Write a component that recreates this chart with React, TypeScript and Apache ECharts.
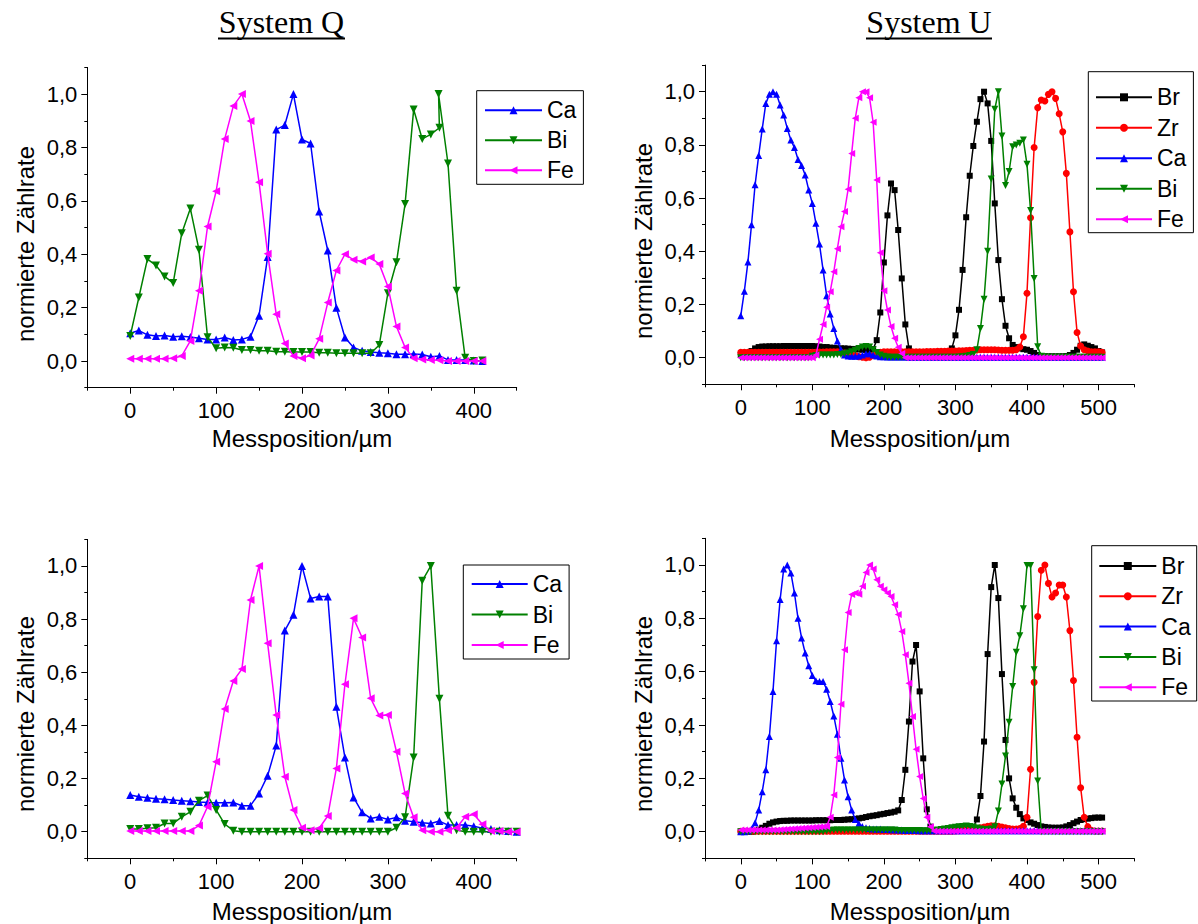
import React, { useEffect, useRef } from "react";
import * as echarts from "echarts";

const FONT = '"Liberation Sans", Arial, sans-serif';
const SERIF = '"Liberation Serif", "Times New Roman", serif';

// ---------- positions (µm) ----------
const xQTop = [0, 10, 20, 30, 40, 50, 60, 70, 80, 90, 100, 110, 120, 130, 140, 150, 160, 170, 180, 190, 200, 210, 220, 230, 240, 250, 260, 270, 280, 290, 300, 310, 320, 330, 340, 350, 360, 370, 380, 390, 400, 410];
const xQTopBi = [0, 10, 20, 30, 40, 50, 60, 70, 80, 90, 100, 110, 120, 130, 140, 150, 160, 170, 180, 190, 200, 210, 220, 230, 240, 250, 260, 270, 280, 290, 300, 310, 320, 330, 340, 350, 360, 359, 370, 380, 390, 400, 410];
const xQBot = [0, 10, 20, 30, 40, 50, 60, 70, 80, 90, 100, 110, 120, 130, 140, 150, 160, 170, 180, 190, 200, 210, 220, 230, 240, 250, 260, 270, 280, 290, 300, 310, 320, 330, 340, 350, 360, 370, 380, 390, 400, 410, 420, 430, 440, 450];
const xU = [
  0, 5, 10, 15, 20, 25, 30, 35, 40, 45,
  50, 55, 60, 65, 70, 75, 80, 85, 90, 95,
  100, 105, 110, 115, 120, 125, 130, 135, 140, 145,
  150, 155, 160, 165, 170, 175, 180, 185, 190, 195,
  200, 205, 210, 215, 220, 225, 230, 235, 240, 245,
  250, 255, 260, 265, 270, 275, 280, 285, 290, 295,
  300, 305, 310, 315, 320, 325, 330, 335, 340, 345,
  350, 355, 360, 365, 370, 375, 380, 385, 390, 395,
  400, 405, 410, 415, 420, 425, 430, 435, 440, 445,
  450, 455, 460, 465, 470, 475, 480, 485, 490, 495,
  500, 505,
];

// ---------- System Q, top ----------
const caQTop = [0.104, 0.114, 0.098, 0.094, 0.096, 0.091, 0.093, 0.090, 0.085, 0.081,
  0.081, 0.088, 0.079, 0.081, 0.091, 0.170, 0.390, 0.867, 0.884, 1.000,
  0.830, 0.815, 0.560, 0.414, 0.200, 0.088, 0.051, 0.038, 0.034, 0.031,
  0.029, 0.025, 0.025, 0.026, 0.024, 0.016, 0.019, 0.004, 0.004, 0.004,
  0.002, 0.000];
const biQTop = [0.094, 0.238, 0.382, 0.358, 0.317, 0.292, 0.479, 0.571, 0.417, 0.089,
  0.048, 0.051, 0.050, 0.041, 0.041, 0.038, 0.038, 0.035, 0.035, 0.034,
  0.034, 0.034, 0.031, 0.031, 0.029, 0.029, 0.029, 0.029, 0.029, 0.060,
  0.254, 0.370, 0.588, 0.942, 0.832, 0.849, 0.874, 1.000, 0.740, 0.263,
  0.012, 0.000, 0.002];
const feQTop = [0.008, 0.008, 0.008, 0.008, 0.008, 0.010, 0.019, 0.075, 0.263, 0.504,
  0.636, 0.832, 0.955, 1.000, 0.899, 0.670, 0.402, 0.175, 0.066, 0.019,
  0.010, 0.021, 0.083, 0.219, 0.339, 0.400, 0.379, 0.373, 0.388, 0.363,
  0.279, 0.129, 0.051, 0.010, 0.006, 0.004, 0.003, 0.000, 0.000, 0.000,
  0.000, 0.000];

// ---------- System Q, bottom ----------
const caQBot = [0.138, 0.132, 0.128, 0.124, 0.122, 0.119, 0.117, 0.115, 0.112, 0.110,
  0.109, 0.109, 0.110, 0.098, 0.098, 0.144, 0.211, 0.324, 0.757, 0.816,
  1.000, 0.878, 0.885, 0.885, 0.470, 0.279, 0.129, 0.073, 0.050, 0.056,
  0.046, 0.054, 0.041, 0.038, 0.034, 0.031, 0.040, 0.025, 0.025, 0.025,
  0.021, 0.013, 0.010, 0.006, 0.003, 0.000];
const biQBot = [0.010, 0.010, 0.013, 0.015, 0.031, 0.031, 0.056, 0.075, 0.117, 0.136,
  0.082, 0.029, 0.004, 0.000, 0.000, 0.000, 0.000, 0.000, 0.000, 0.000,
  0.000, 0.000, 0.000, 0.000, 0.000, 0.000, 0.000, 0.000, 0.000, 0.000,
  0.000, 0.015, 0.054, 0.279, 0.944, 1.000, 0.500, 0.060, 0.006, 0.000,
  0.000, 0.000, 0.000, 0.000, 0.000, 0.000];
const feQBot = [0.003, 0.003, 0.003, 0.003, 0.003, 0.003, 0.003, 0.003, 0.023, 0.094,
  0.263, 0.462, 0.567, 0.612, 0.872, 1.000, 0.709, 0.439, 0.207, 0.082,
  0.015, 0.006, 0.013, 0.059, 0.238, 0.555, 0.803, 0.731, 0.502, 0.437,
  0.439, 0.301, 0.144, 0.054, 0.006, 0.000, 0.000, 0.006, 0.015, 0.056,
  0.066, 0.028, 0.003, 0.003, 0.000, 0.000];

// ---------- System U, top ----------
const brUTop = [
  0.010, 0.012, 0.015, 0.025, 0.035, 0.040, 0.042, 0.042, 0.043, 0.043,
  0.043, 0.043, 0.044, 0.044, 0.044, 0.044, 0.044, 0.044, 0.044, 0.044,
  0.044, 0.043, 0.042, 0.040, 0.040, 0.038, 0.037, 0.036, 0.035, 0.035,
  0.034, 0.033, 0.032, 0.031, 0.030, 0.030, 0.030, 0.032, 0.066, 0.170,
  0.358, 0.535, 0.655, 0.630, 0.480, 0.298, 0.125, 0.035, 0.020, 0.020,
  0.020, 0.020, 0.020, 0.020, 0.020, 0.020, 0.020, 0.020, 0.020, 0.035,
  0.084, 0.180, 0.330, 0.528, 0.684, 0.796, 0.887, 0.972, 1.000, 0.956,
  0.815, 0.580, 0.367, 0.220, 0.120, 0.073, 0.048, 0.040, 0.035, 0.032,
  0.030, 0.025, 0.018, 0.010, 0.006, 0.005, 0.005, 0.005, 0.005, 0.005,
  0.005, 0.006, 0.010, 0.018, 0.030, 0.045, 0.050, 0.045, 0.040, 0.035,
  0.025, 0.020,
];
const zrUTop = [
  0.020, 0.020, 0.020, 0.020, 0.020, 0.020, 0.020, 0.020, 0.020, 0.020,
  0.020, 0.020, 0.020, 0.020, 0.020, 0.020, 0.020, 0.020, 0.020, 0.020,
  0.020, 0.020, 0.021, 0.021, 0.022, 0.022, 0.022, 0.022, 0.020, 0.018,
  0.015, 0.012, 0.008, 0.004, 0.002, 0.000, 0.002, 0.008, 0.015, 0.020,
  0.022, 0.022, 0.022, 0.022, 0.022, 0.022, 0.022, 0.022, 0.022, 0.022,
  0.022, 0.022, 0.023, 0.023, 0.023, 0.024, 0.024, 0.024, 0.025, 0.025,
  0.025, 0.026, 0.026, 0.027, 0.028, 0.028, 0.029, 0.030, 0.030, 0.030,
  0.030, 0.030, 0.029, 0.028, 0.028, 0.028, 0.028, 0.030, 0.040, 0.079,
  0.242, 0.526, 0.790, 0.940, 0.969, 0.965, 0.990, 1.000, 0.975, 0.917,
  0.849, 0.693, 0.473, 0.248, 0.095, 0.044, 0.030, 0.025, 0.022, 0.022,
  0.022, 0.020,
];
const caUTop = [
  0.158, 0.250, 0.360, 0.500, 0.650, 0.760, 0.860, 0.956, 0.990, 1.000,
  0.990, 0.950, 0.912, 0.862, 0.818, 0.790, 0.745, 0.723, 0.687, 0.630,
  0.580, 0.505, 0.427, 0.330, 0.233, 0.164, 0.110, 0.063, 0.031, 0.010,
  0.006, 0.005, 0.005, 0.006, 0.010, 0.015, 0.015, 0.010, 0.006, 0.004,
  0.004, 0.003, 0.003, 0.003, 0.003, 0.003, 0.003, 0.002, 0.002, 0.002,
  0.002, 0.002, 0.002, 0.002, 0.002, 0.002, 0.002, 0.002, 0.002, 0.002,
  0.002, 0.002, 0.002, 0.002, 0.002, 0.002, 0.002, 0.002, 0.002, 0.002,
  0.002, 0.002, 0.002, 0.002, 0.002, 0.002, 0.002, 0.002, 0.002, 0.002,
  0.002, 0.002, 0.002, 0.002, 0.002, 0.002, 0.002, 0.002, 0.002, 0.002,
  0.002, 0.002, 0.002, 0.002, 0.002, 0.002, 0.002, 0.002, 0.002, 0.002,
  0.002, 0.002,
];
const biUTop = [
  0.000, 0.000, 0.000, 0.000, 0.000, 0.000, 0.000, 0.000, 0.000, 0.000,
  0.000, 0.000, 0.000, 0.000, 0.000, 0.000, 0.000, 0.000, 0.000, 0.000,
  0.005, 0.008, 0.010, 0.010, 0.010, 0.010, 0.010, 0.012, 0.012, 0.015,
  0.018, 0.022, 0.028, 0.035, 0.040, 0.042, 0.040, 0.030, 0.020, 0.010,
  0.005, 0.003, 0.002, 0.002, 0.002, 0.002, 0.002, 0.002, 0.002, 0.002,
  0.002, 0.002, 0.002, 0.002, 0.002, 0.002, 0.002, 0.002, 0.002, 0.002,
  0.002, 0.003, 0.004, 0.005, 0.008, 0.012, 0.030, 0.110, 0.220, 0.400,
  0.672, 0.934, 1.000, 0.833, 0.647, 0.700, 0.793, 0.800, 0.806, 0.818,
  0.727, 0.553, 0.298, 0.041, 0.005, 0.003, 0.002, 0.002, 0.002, 0.002,
  0.002, 0.002, 0.002, 0.002, 0.002, 0.002, 0.002, 0.002, 0.002, 0.002,
  0.002, 0.002,
];
const feUTop = [
  0.000, 0.000, 0.000, 0.000, 0.000, 0.000, 0.000, 0.000, 0.000, 0.000,
  0.000, 0.000, 0.000, 0.000, 0.000, 0.000, 0.000, 0.000, 0.000, 0.000,
  0.000, 0.010, 0.069, 0.125, 0.190, 0.248, 0.323, 0.410, 0.492, 0.550,
  0.633, 0.768, 0.900, 0.977, 1.000, 1.000, 0.977, 0.885, 0.668, 0.395,
  0.252, 0.179, 0.117, 0.073, 0.039, 0.016, 0.000, 0.000, 0.000, 0.000,
  0.000, 0.000, 0.000, 0.000, 0.000, 0.000, 0.000, 0.000, 0.000, 0.000,
  0.000, 0.000, 0.000, 0.000, 0.000, 0.000, 0.000, 0.000, 0.000, 0.000,
  0.000, 0.000, 0.000, 0.000, 0.000, 0.000, 0.000, 0.000, 0.000, 0.000,
  0.000, 0.000, 0.000, 0.000, 0.000, 0.000, 0.000, 0.000, 0.000, 0.000,
  0.000, 0.000, 0.000, 0.000, 0.000, 0.000, 0.000, 0.000, 0.000, 0.000,
  0.000, 0.000,
];

// ---------- System U, bottom ----------
const brUBot = [
  0.000, 0.000, 0.000, 0.000, 0.002, 0.008, 0.015, 0.022, 0.030, 0.035,
  0.038, 0.040, 0.041, 0.041, 0.042, 0.042, 0.042, 0.042, 0.042, 0.042,
  0.042, 0.043, 0.043, 0.043, 0.043, 0.043, 0.044, 0.044, 0.044, 0.045,
  0.046, 0.047, 0.048, 0.050, 0.052, 0.055, 0.058, 0.060, 0.062, 0.065,
  0.067, 0.070, 0.072, 0.075, 0.080, 0.119, 0.232, 0.413, 0.638, 0.700,
  0.526, 0.275, 0.084, 0.019, 0.006, 0.006, 0.008, 0.010, 0.012, 0.012,
  0.013, 0.014, 0.015, 0.015, 0.016, 0.017, 0.046, 0.134, 0.338, 0.666,
  0.917, 1.000, 0.876, 0.591, 0.344, 0.200, 0.125, 0.090, 0.066, 0.050,
  0.044, 0.035, 0.030, 0.025, 0.020, 0.018, 0.016, 0.015, 0.015, 0.015,
  0.016, 0.020, 0.025, 0.032, 0.038, 0.044, 0.047, 0.049, 0.051, 0.053,
  0.053, 0.053,
];
const zrUBot = [
  0.002, 0.002, 0.002, 0.002, 0.002, 0.002, 0.002, 0.002, 0.002, 0.002,
  0.002, 0.002, 0.002, 0.002, 0.002, 0.002, 0.002, 0.002, 0.002, 0.002,
  0.002, 0.002, 0.002, 0.002, 0.002, 0.002, 0.002, 0.002, 0.002, 0.002,
  0.002, 0.002, 0.002, 0.002, 0.002, 0.002, 0.002, 0.002, 0.002, 0.002,
  0.002, 0.002, 0.002, 0.002, 0.002, 0.002, 0.002, 0.002, 0.002, 0.002,
  0.002, 0.002, 0.002, 0.002, 0.002, 0.002, 0.002, 0.002, 0.002, 0.002,
  0.003, 0.004, 0.005, 0.006, 0.008, 0.010, 0.012, 0.015, 0.018, 0.020,
  0.022, 0.022, 0.020, 0.018, 0.015, 0.012, 0.010, 0.010, 0.012, 0.020,
  0.054, 0.234, 0.560, 0.807, 0.980, 1.000, 0.931, 0.880, 0.895, 0.925,
  0.925, 0.880, 0.754, 0.567, 0.354, 0.165, 0.054, 0.019, 0.005, 0.003,
  0.003, 0.003,
];
const caUBot = [
  0.000, 0.000, 0.003, 0.010, 0.034, 0.081, 0.150, 0.232, 0.357, 0.526,
  0.716, 0.871, 0.985, 1.000, 0.970, 0.895, 0.800, 0.726, 0.670, 0.622,
  0.586, 0.566, 0.563, 0.563, 0.534, 0.488, 0.434, 0.365, 0.275, 0.194,
  0.131, 0.081, 0.046, 0.031, 0.020, 0.015, 0.012, 0.010, 0.010, 0.010,
  0.008, 0.008, 0.007, 0.007, 0.006, 0.006, 0.005, 0.005, 0.005, 0.005,
  0.004, 0.004, 0.004, 0.004, 0.004, 0.004, 0.004, 0.004, 0.004, 0.004,
  0.004, 0.004, 0.004, 0.004, 0.004, 0.004, 0.004, 0.004, 0.004, 0.004,
  0.004, 0.004, 0.004, 0.004, 0.004, 0.004, 0.004, 0.004, 0.004, 0.004,
  0.004, 0.004, 0.004, 0.004, 0.004, 0.004, 0.004, 0.004, 0.004, 0.004,
  0.004, 0.004, 0.004, 0.004, 0.004, 0.004, 0.004, 0.004, 0.004, 0.004,
  0.004, 0.004,
];
const biUBot = [
  0.000, 0.000, 0.000, 0.000, 0.000, 0.000, 0.000, 0.000, 0.000, 0.000,
  0.000, 0.000, 0.000, 0.000, 0.000, 0.000, 0.000, 0.000, 0.000, 0.000,
  0.000, 0.000, 0.000, 0.000, 0.003, 0.005, 0.006, 0.006, 0.006, 0.006,
  0.006, 0.006, 0.006, 0.006, 0.006, 0.006, 0.006, 0.006, 0.006, 0.006,
  0.006, 0.006, 0.006, 0.006, 0.005, 0.005, 0.005, 0.005, 0.005, 0.005,
  0.005, 0.004, 0.004, 0.004, 0.005, 0.006, 0.008, 0.010, 0.012, 0.015,
  0.017, 0.019, 0.020, 0.021, 0.020, 0.018, 0.014, 0.010, 0.008, 0.008,
  0.010, 0.019, 0.078, 0.179, 0.284, 0.410, 0.544, 0.673, 0.735, 0.836,
  0.998, 0.998, 0.607, 0.190, 0.000, 0.000, 0.000, 0.000, 0.000, 0.000,
  0.000, 0.000, 0.000, 0.000, 0.000, 0.000, 0.000, 0.000, 0.000, 0.000,
  0.000, 0.000,
];
const feUBot = [
  0.006, 0.006, 0.006, 0.006, 0.006, 0.006, 0.006, 0.006, 0.006, 0.006,
  0.006, 0.007, 0.008, 0.009, 0.010, 0.011, 0.012, 0.013, 0.014, 0.015,
  0.016, 0.017, 0.018, 0.019, 0.020, 0.054, 0.138, 0.278, 0.478, 0.682,
  0.822, 0.889, 0.895, 0.890, 0.920, 0.972, 1.000, 0.985, 0.945, 0.920,
  0.907, 0.895, 0.882, 0.851, 0.814, 0.751, 0.663, 0.557, 0.432, 0.309,
  0.207, 0.125, 0.054, 0.019, 0.003, 0.002, 0.002, 0.002, 0.002, 0.002,
  0.002, 0.002, 0.002, 0.002, 0.002, 0.002, 0.002, 0.002, 0.002, 0.002,
  0.002, 0.002, 0.002, 0.002, 0.002, 0.002, 0.002, 0.002, 0.002, 0.002,
  0.002, 0.002, 0.002, 0.002, 0.002, 0.002, 0.002, 0.002, 0.002, 0.002,
  0.002, 0.002, 0.002, 0.002, 0.002, 0.002, 0.002, 0.002, 0.002, 0.002,
  0.002, 0.002,
];

// ---------- ticks ----------
const yMajor = [0, 0.2, 0.4, 0.6, 0.8, 1.0];
const yMinor = [-0.1, 0.1, 0.3, 0.5, 0.7, 0.9, 1.1];
const xMajorQ = [0, 100, 200, 300, 400];
const xMinorQ = [-50, 50, 150, 250, 350, 450];
const xMajorU = [0, 100, 200, 300, 400, 500];
const xMinorU = [-50, 50, 150, 250, 350, 450, 550];

const COLORS: Record<string, string> = { Br: "#000000", Zr: "#ff0000", Ca: "#0000ff", Bi: "#008000", Fe: "#ff00ff" };
const SYMBOLS: Record<string, [string, number]> = {
  Br: ["rect", 0],
  Zr: ["circle", 0],
  Ca: ["triangle", 0],
  Bi: ["triangle", 180],
  Fe: ["triangle", 90],
};

type Panel = {
  grid: { left: number; top: number; width: number; height: number };
  xMin: number; xMax: number; xMajor: number[]; xMinor: number[];
  series: { name: string; xs: number[]; ys: number[] }[];
  symbolSize: number;
  legend: { left: number; top: number; padding: number[]; itemWidth: number; itemGap: number };
  yTitle: [number, number];
  xTitle: [number, number];
};

const panels: Panel[] = [
  {
    grid: { left: 87.3, top: 67.4, width: 429.4, height: 320.3 },
    xMin: -50, xMax: 450, xMajor: xMajorQ, xMinor: xMinorQ,
    series: [
      { name: "Ca", xs: xQTop, ys: caQTop },
      { name: "Bi", xs: xQTopBi, ys: biQTop },
      { name: "Fe", xs: xQTop, ys: feQTop },
    ],
    symbolSize: 8,
    legend: { left: 476.7, top: 90.7, padding: [8, 7, 2.6, 7.3], itemWidth: 57, itemGap: 7 },
    yTitle: [25, 244], xTitle: [302, 438],
  },
  {
    grid: { left: 705, top: 65.1, width: 429.3, height: 319.2 },
    xMin: -50, xMax: 550, xMajor: xMajorU, xMinor: xMinorU,
    series: [
      { name: "Br", xs: xU, ys: brUTop },
      { name: "Zr", xs: xU, ys: zrUTop },
      { name: "Ca", xs: xU, ys: caUTop },
      { name: "Bi", xs: xU, ys: biUTop },
      { name: "Fe", xs: xU, ys: feUTop },
    ],
    symbolSize: 7,
    legend: { left: 1088.3, top: 71.7, padding: [14.1, 7, 1.9, 6.7], itemWidth: 56, itemGap: 7.5 },
    yTitle: [643, 241], xTitle: [920, 438],
  },
  {
    grid: { left: 87.3, top: 539.4, width: 429.4, height: 318.9 },
    xMin: -50, xMax: 450, xMajor: xMajorQ, xMinor: xMinorQ,
    series: [
      { name: "Ca", xs: xQBot, ys: caQBot },
      { name: "Bi", xs: xQBot, ys: biQBot },
      { name: "Fe", xs: xQBot, ys: feQBot },
    ],
    symbolSize: 8,
    legend: { left: 463.3, top: 565, padding: [7.5, 7, 2.5, 7.4], itemWidth: 56, itemGap: 7.5 },
    yTitle: [25, 714], xTitle: [302, 911],
  },
  {
    grid: { left: 705, top: 538.3, width: 429.3, height: 320.1 },
    xMin: -50, xMax: 550, xMajor: xMajorU, xMinor: xMinorU,
    series: [
      { name: "Br", xs: xU, ys: brUBot },
      { name: "Zr", xs: xU, ys: zrUBot },
      { name: "Ca", xs: xU, ys: caUBot },
      { name: "Bi", xs: xU, ys: biUBot },
      { name: "Fe", xs: xU, ys: feUBot },
    ],
    symbolSize: 7,
    legend: { left: 1091.7, top: 545.7, padding: [8.8, 6, 2.3, 6.6], itemWidth: 57, itemGap: 7.3 },
    yTitle: [643, 714], xTitle: [920, 911],
  },
];

function buildOption() {
  const grid: any[] = [];
  const xAxis: any[] = [];
  const yAxis: any[] = [];
  const series: any[] = [];
  const legend: any[] = [];
  const graphic: any[] = [];

  const tickLabel = { fontSize: 22, fontFamily: FONT, color: "#000" };

  panels.forEach((p, i) => {
    grid.push({ ...p.grid, containLabel: false, show: false });
    xAxis.push({
      gridIndex: i, type: "value", position: "bottom", min: p.xMin, max: p.xMax,
      axisLine: { show: true, onZero: false, lineStyle: { color: "#000", width: 1 } },
      axisTick: { show: true, inside: false, length: 6, customValues: p.xMajor, lineStyle: { color: "#000", width: 1 } },
      axisLabel: { ...tickLabel, margin: 12, customValues: p.xMajor, formatter: (v: number) => String(v) },
      splitLine: { show: false },
    });
    xAxis.push({
      gridIndex: i, type: "value", position: "bottom", offset: 0, min: p.xMin, max: p.xMax,
      axisLine: { show: false, onZero: false },
      axisTick: { show: true, inside: false, length: 3, customValues: p.xMinor, lineStyle: { color: "#000", width: 1 } },
      axisLabel: { show: false },
      splitLine: { show: false },
    });
    yAxis.push({
      gridIndex: i, type: "value", position: "left", min: -0.1, max: 1.1,
      axisLine: { show: true, onZero: false, lineStyle: { color: "#000", width: 1 } },
      axisTick: { show: true, inside: false, length: 6, customValues: yMajor, lineStyle: { color: "#000", width: 1 } },
      axisLabel: { ...tickLabel, margin: 10, customValues: yMajor, formatter: (v: number) => v.toFixed(1).replace(".", ",") },
      splitLine: { show: false },
    });
    yAxis.push({
      gridIndex: i, type: "value", position: "left", offset: 0, min: -0.1, max: 1.1,
      axisLine: { show: false, onZero: false },
      axisTick: { show: true, inside: false, length: 3, customValues: yMinor, lineStyle: { color: "#000", width: 1 } },
      axisLabel: { show: false },
      splitLine: { show: false },
    });

    p.series.forEach((s, k) => {
      const [sym, rot] = SYMBOLS[s.name];
      series.push({
        type: "line",
        name: s.name,
        xAxisIndex: i * 2,
        yAxisIndex: i * 2,
        data: s.xs.map((x, j) => [x, s.ys[j]]),
        symbol: sym,
        symbolRotate: rot,
        symbolSize: s.name === "Br" ? p.symbolSize - 1 : p.symbolSize,
        showAllSymbol: true,
        lineStyle: { color: COLORS[s.name], width: 1.5 },
        itemStyle: { color: COLORS[s.name] },
        emphasis: { disabled: true },
        z: 2 + k,
        animation: false,
      });
    });

    legend.push({
      data: p.series.map((s) => s.name),
      orient: "vertical",
      left: p.legend.left,
      top: p.legend.top,
      padding: p.legend.padding,
      itemWidth: p.legend.itemWidth,
      itemHeight: 10,
      itemGap: p.legend.itemGap,
      borderColor: "#000",
      borderWidth: 1,
      borderRadius: 0,
      selectedMode: false,
      textStyle: { fontSize: 23, fontFamily: FONT, color: "#000", lineHeight: 23 },
    });

    graphic.push({
      type: "text",
      x: p.yTitle[0], y: p.yTitle[1],
      rotation: Math.PI / 2,
      style: {
        text: "normierte Zählrate", fill: "#000", fontSize: 24, fontFamily: FONT,
        textAlign: "center", textVerticalAlign: "middle", align: "center", verticalAlign: "middle",
      },
    });
    graphic.push({
      type: "text",
      x: p.xTitle[0], y: p.xTitle[1],
      style: {
        text: "Messposition/µm", fill: "#000", fontSize: 24, fontFamily: FONT,
        textAlign: "center", textVerticalAlign: "middle", align: "center", verticalAlign: "middle",
      },
    });
  });

  const headings: [string, number, number, number][] = [
    ["System Q", 281.5, 218, 345],
    ["System U", 929, 866, 992],
  ];
  headings.forEach(([t, cx, x1, x2]) => {
    graphic.push({
      type: "text", x: cx, y: 22,
      style: {
        text: t, fill: "#000", fontSize: 32, fontFamily: SERIF,
        textAlign: "center", textVerticalAlign: "middle", align: "center", verticalAlign: "middle",
      },
    });
    graphic.push({
      type: "line",
      shape: { x1, y1: 38.5, x2, y2: 38.5 },
      style: { stroke: "#000", lineWidth: 2 },
    });
  });

  return {
    animation: false,
    backgroundColor: "#ffffff",
    grid, xAxis, yAxis, series, legend, graphic,
  };
}

export default function App() {
  const ref = useRef<HTMLDivElement>(null);
  useEffect(() => {
    if (!ref.current) return;
    const chart = echarts.init(ref.current, undefined, { renderer: "svg" });
    chart.setOption(buildOption() as any);
    return () => chart.dispose();
  }, []);
  return (
    <div
      ref={ref}
      style={{ position: "absolute", left: 0, top: 0, width: 1198, height: 924, background: "#fff" }}
    />
  );
}
